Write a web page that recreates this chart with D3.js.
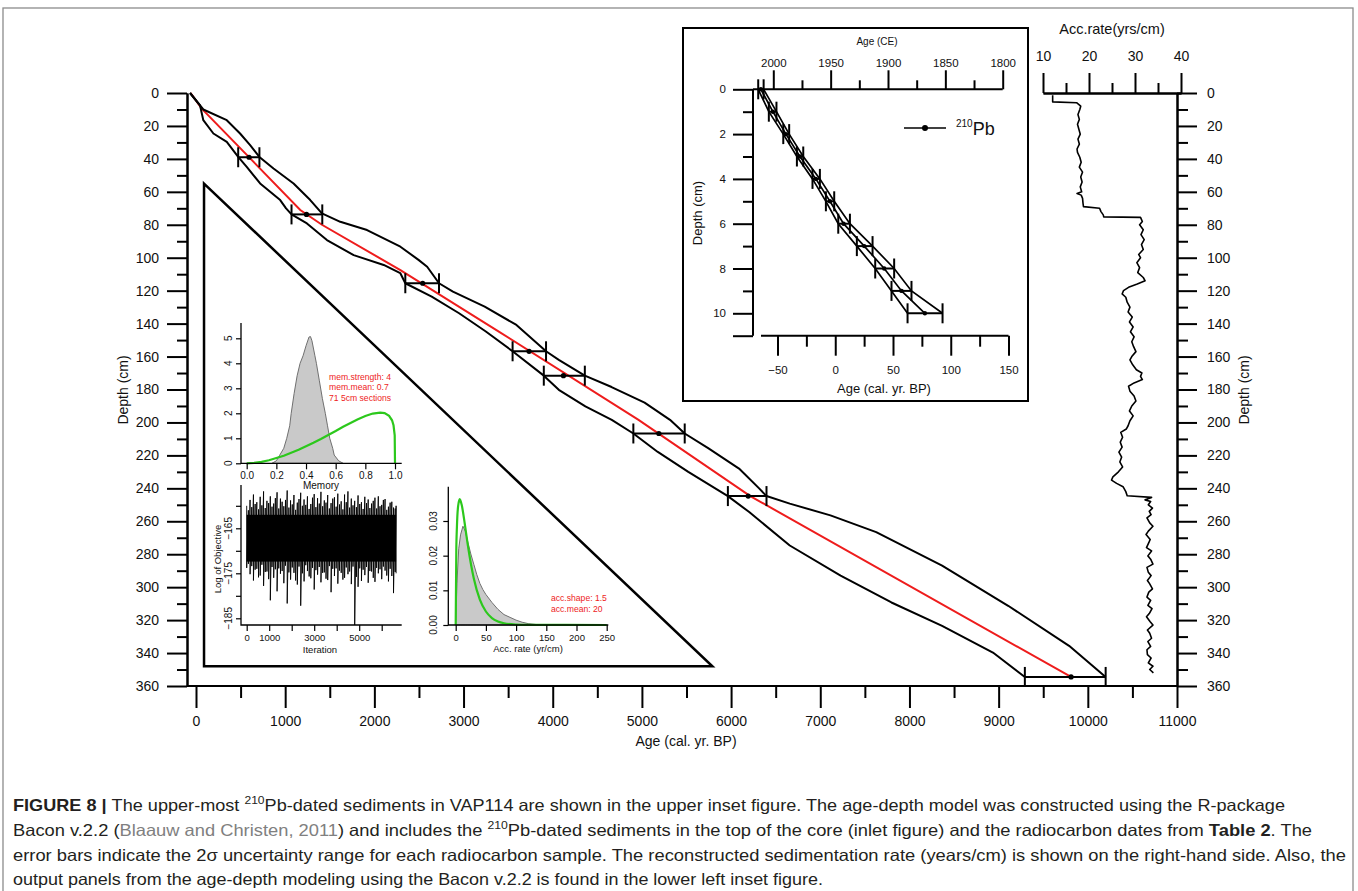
<!DOCTYPE html>
<html>
<head>
<meta charset="utf-8">
<script src="https://cdn.jsdelivr.net/npm/d3@7"></script>
<style>
  body { margin: 0; background: #fff; }
  svg { display: block; }
</style>
</head>
<body>
<div id="chart"></div>
<script>
// ---------------- data ----------------
// radiocarbon dates (depth cm, median age, 2 sigma range)
const c14Depth = [39, 73.7, 115.5, 156.8, 171.6, 206.7, 244.7, 354.5];
const c14Age   = [595, 1239, 2542, 3735, 4120, 5190, 6192, 9812];
const c14Min   = [473, 1071, 2347, 3550, 3900, 4904, 5964, 9294];
const c14Max   = [711, 1416, 2725, 3925, 4360, 5480, 6397, 10200];

// model median (red)
const medDepth = [0, 9.5, 38.8, 71, 80, 107.5, 145, 198.4, 244.7, 354.5];
const medAge   = [-60, 64, 591, 1169, 1412, 2292, 3400, 4962, 6215, 9812];

// model envelope, old side
const oldDepth = [0, 10, 16.5, 24.6, 31.7, 38.8, 45.8, 54.9, 65, 73.1, 78.2, 83.2, 93.3, 101.3, 105.5, 115.5, 120.6, 129.7, 140.8, 156.8, 162, 171.6, 178.5, 188, 198.4, 206.7, 215.8, 228, 240.2, 244.7, 249.3, 256.4, 266.6, 286.9, 311.3, 335.6, 354.5];
const oldAge   = [-67, 82, 345, 494, 607, 711, 869, 1094, 1281, 1412, 1618, 1918, 2292, 2495, 2592, 2725, 2881, 3237, 3593, 3925, 4068, 4360, 4660, 5030, 5315, 5480, 5747, 6089, 6317, 6397, 6658, 7114, 7627, 8366, 9107, 9790, 10200];

// model envelope, young side
const youngDepth = [0, 7.5, 16.5, 24.6, 29.7, 38.8, 44.8, 54.9, 65, 70, 73.7, 79.2, 89.3, 98.4, 104.4, 109.3, 115.5, 123.6, 133.7, 144.8, 156.8, 171.6, 180.2, 190.3, 198.4, 206.7, 217.9, 230, 244.7, 254.4, 274.7, 293, 309.3, 323.5, 339.7, 354.5];
const youngAge   = [-67, 45, 82, 195, 345, 473, 569, 719, 944, 1010, 1071, 1244, 1468, 1768, 2105, 2290, 2347, 2643, 2950, 3250, 3550, 3900, 4068, 4366, 4662, 4904, 5178, 5520, 5964, 6203, 6658, 7228, 7798, 8366, 8936, 9294];

// accumulation rate profile (right)
const accDepth = [1.3, 5.4, 5.9, 8, 10, 13, 16, 19, 22, 25, 28, 31, 34, 36, 39, 42, 45, 48, 51, 54, 57, 60, 61, 62, 64, 67, 69, 70, 72, 74, 75.2, 75.5, 78, 80, 83, 86, 89, 92, 95, 98, 100, 103, 106, 109, 112, 114, 116, 118, 120, 122, 124, 127, 130, 133, 136, 139, 142, 145, 148, 151, 154, 157, 160, 162, 165, 168, 170, 172, 174, 176, 178, 181, 184, 187, 190, 193, 196, 199, 202, 204, 206, 209, 212, 215, 218, 221, 224, 227, 230, 233, 235, 237, 239, 242, 244.5, 245.5, 247, 248, 250, 252, 254, 256, 258, 261, 263, 266, 268, 271, 273, 276, 278, 281, 283, 286, 288, 291, 293, 296, 298, 301, 303, 306, 308, 311, 313, 316, 318, 321, 323, 326, 328, 331, 333, 336, 338, 341, 343, 346, 348, 350, 352];
const accRate  = [12.1, 12.1, 17.3, 18.2, 18.0, 17.6, 17.9, 17.5, 17.8, 18.1, 17.6, 17.9, 17.4, 17.5, 18.0, 18.3, 17.9, 18.6, 18.2, 18.5, 18.1, 18.4, 17.4, 18.3, 18.6, 18.7, 18.8, 22.3, 22.6, 23.1, 23.2, 31.2, 31.6, 31.0, 31.8, 31.3, 32.0, 31.4, 31.8, 30.8, 31.2, 30.4, 31.0, 30.6, 31.8, 32.2, 30.5, 28.6, 27.5, 27.2, 28.0, 28.3, 28.9, 28.5, 29.4, 28.8, 29.6, 29.0, 29.8, 29.3, 29.7, 30.2, 29.3, 28.9, 29.5, 30.3, 31.5, 31.2, 31.6, 29.8, 28.6, 28.9, 29.8, 30.2, 29.3, 28.8, 29.6, 28.9, 28.5, 28.1, 26.9, 27.3, 26.8, 27.2, 26.5, 27.1, 26.7, 27.3, 26.4, 25.2, 24.9, 26.0, 27.4, 28.0, 28.3, 33.6, 32.2, 33.4, 32.9, 33.8, 33.1, 33.5, 32.6, 33.2, 33.9, 32.9, 32.4, 33.3, 33.0, 32.5, 33.6, 32.8, 33.4, 33.9, 32.6, 32.9, 33.5, 32.7, 33.2, 33.8, 33.0, 32.6, 33.4, 32.8, 33.7, 33.1, 32.5, 33.3, 33.9, 32.7, 33.2, 33.6, 32.8, 33.4, 32.6, 32.7, 33.5, 32.9, 33.9, 33.2, 34.0];

// 210Pb inset
const pbDepth = [0, 1, 2, 3, 4, 5, 6, 7, 8, 9, 10];
const pbAge   = [-64.4, -54, -42.7, -30.6, -16.8, -4.6, 7.2, 25.1, 42.4, 57.4, 77.6];
const pbMin   = [-66.7, -57.5, -45, -33.2, -19.7, -8.1, 2.6, 18.7, 34.6, 48.7, 62.6];
const pbMax   = [-62, -50.9, -39.9, -27.7, -13.3, -0.9, 12.7, 32.3, 51, 66, 92.9];

// Bacon output: memory
const memX     = [0.17, 0.20, 0.22, 0.25, 0.27, 0.29, 0.30, 0.32, 0.34, 0.36, 0.38, 0.40, 0.42, 0.43, 0.44, 0.46, 0.47, 0.49, 0.51, 0.53, 0.545, 0.56, 0.58, 0.59, 0.62, 0.65];
const memPost  = [0, 0.1, 0.3, 0.6, 1.0, 1.5, 2.0, 2.8, 3.5, 4.0, 4.3, 4.7, 5.05, 5.07, 4.9, 4.3, 4.0, 3.3, 2.6, 2.0, 1.5, 1.0, 0.6, 0.33, 0.1, 0];
const memPriorX = [0, 0.05, 0.1, 0.15, 0.2, 0.25, 0.3, 0.35, 0.4, 0.45, 0.5, 0.55, 0.6, 0.65, 0.7, 0.75, 0.8, 0.85, 0.9, 0.93, 0.96, 0.98, 0.99, 0.998, 1.0];
const memPrior  = [0, 0.018, 0.06, 0.12, 0.21, 0.30, 0.42, 0.54, 0.68, 0.82, 0.97, 1.13, 1.29, 1.46, 1.61, 1.76, 1.89, 1.99, 2.03, 2.01, 1.90, 1.72, 1.52, 1.12, 0];

// Bacon output: log objective trace (spike extremes read along the run)
const traceIter = [0, 75, 150, 225, 300, 375, 450, 525, 600, 675, 750, 825, 900, 975, 1050, 1125, 1200, 1275, 1350, 1425, 1500, 1575, 1650, 1725, 1800, 1875, 1950, 2025, 2100, 2175, 2250, 2325, 2400, 2475, 2550, 2625, 2700, 2775, 2850, 2925, 3000, 3075, 3150, 3225, 3300, 3375, 3450, 3525, 3600, 3675, 3750, 3825, 3900, 3975, 4050, 4125, 4200, 4275, 4350, 4425, 4500, 4575, 4650, 4725, 4800, 4875, 4950, 5025, 5100, 5175, 5250, 5325, 5400, 5475, 5550, 5625, 5700, 5775, 5850, 5925, 6000, 6075, 6150, 6225, 6300, 6375, 6450, 6525, 6600, 6640];
const traceHigh = [-160.0, -161.0, -158.7, -160.3, -157.5, -159.6, -159.2, -160.8, -158.0, -159.9, -156.8, -160.5, -158.9, -159.4, -157.9, -160.2, -159.5, -158.3, -157.0, -160.6, -158.4, -159.1, -160.1, -158.7, -156.6, -160.4, -158.8, -159.7, -157.6, -160.9, -159.3, -158.5, -157.1, -160.0, -158.6, -159.8, -157.9, -160.7, -159.6, -158.2, -157.4, -160.3, -158.3, -159.5, -156.9, -160.1, -158.8, -159.3, -157.6, -160.6, -159.4, -158.4, -158.1, -160.2, -157.3, -159.7, -159.0, -160.8, -157.5, -159.2, -156.8, -160.4, -158.4, -159.9, -158.9, -160.3, -157.7, -159.6, -159.2, -160.7, -158.0, -159.4, -158.6, -160.5, -159.5, -158.9, -158.2, -160.6, -157.9, -160.1, -159.8, -158.7, -158.5, -160.9, -160.2, -159.3, -159.1, -160.4, -160.6, -160.0];
const traceLow  = [-173.8, -172.9, -175.2, -173.4, -176.6, -174.2, -174.0, -175.9, -175.5, -173.1, -177.8, -174.7, -174.6, -176.3, -181.0, -173.6, -176.0, -174.1, -179.0, -173.9, -175.1, -174.5, -177.2, -173.3, -181.7, -174.8, -176.4, -173.7, -174.9, -176.6, -177.5, -173.5, -182.2, -175.0, -176.8, -173.2, -174.5, -175.7, -176.1, -173.8, -178.6, -174.3, -175.3, -173.6, -177.0, -174.9, -174.8, -176.2, -176.5, -173.4, -179.2, -174.0, -175.6, -173.9, -177.3, -174.4, -174.9, -176.4, -176.0, -173.7, -175.2, -174.6, -177.4, -173.5, -186.5, -175.8, -178.0, -173.9, -176.7, -174.2, -175.4, -173.6, -177.1, -174.5, -174.6, -176.0, -176.9, -173.8, -175.0, -174.1, -176.3, -173.5, -174.4, -175.5, -176.8, -174.0, -175.6, -179.4, -174.7, -175.0];
const traceCore = [-162.0, -172.4];

// Bacon output: accumulation rate
const accPostX = [0, 2, 5, 8, 12, 16, 20, 25, 30, 35, 40, 45, 50, 60, 70, 80, 90, 100, 110, 120, 135, 150];
const accPost  = [0, 0.012, 0.022, 0.026, 0.0285, 0.027, 0.024, 0.0205, 0.0175, 0.0145, 0.012, 0.0102, 0.0088, 0.0065, 0.0045, 0.003, 0.0022, 0.0014, 0.0008, 0.0004, 0.0001, 0];
const accPriorX = [0, 1, 2, 4, 6.7, 10, 15, 20, 25, 30, 40, 50, 60, 70, 80, 100, 120, 250];
const accPrior  = [0, 0.0215, 0.0282, 0.0343, 0.0363, 0.0346, 0.0292, 0.0231, 0.0178, 0.0134, 0.0073, 0.0039, 0.002, 0.001, 0.0005, 0.00013, 0.00003, 0];

// tick values
const ageTicks = [0, 1000, 2000, 3000, 4000, 5000, 6000, 7000, 8000, 9000, 10000, 11000];
const depthTicks = [0, 20, 40, 60, 80, 100, 120, 140, 160, 180, 200, 220, 240, 260, 280, 300, 320, 340, 360];
const accTicks = [10, 20, 30, 40];
const ceTicks = [2000, 1950, 1900, 1850, 1800];
const bpTicks = [-50, 0, 50, 100, 150];
const pbDepthTicks = [0, 2, 4, 6, 8, 10, 11];
const memTicks = [0, 0.2, 0.4, 0.6, 0.8, 1.0];
const memYTicks = [0, 1, 2, 3, 4, 5];
const iterTicks = [0, 1000, 2000, 3000, 4000, 5000, 6000];
const iterLabels = ['0', '1000', '', '3000', '', '5000', ''];
const objTicks = [-160, -165, -170, -175, -180, -185];
const objLabels = ['', '\u2212165', '', '\u2212175', '', '\u2212185'];
const accXTicks = [0, 50, 100, 150, 200, 250];
const accYTicks = [0, 0.01, 0.02, 0.03];
const accYLabels = ['0.00', '0.01', '0.02', '0.03'];

// ---------------- drawing ----------------
const W = 1358, H = 891;
const FONT = '"Liberation Sans", Arial, Helvetica, sans-serif';
const RED = '#ee1c1c';
const GREEN = '#2cc81c';

const svg = d3.select('#chart').append('svg')
    .attr('width', W)
    .attr('height', H)
    .attr('font-family', FONT);

svg.append('rect').attr('width', W).attr('height', H).attr('fill', '#fff');

// figure frame
svg.append('rect')
    .attr('x', 3).attr('y', 8).attr('width', 1350).attr('height', 900)
    .attr('fill', 'none').attr('stroke', '#8c8c8c').attr('stroke-width', 1.3);

function styleAxis(g, size, width) {
    g.attr('font-family', FONT).attr('font-size', size);
    g.selectAll('line').attr('stroke', '#000').attr('stroke-width', width);
    g.selectAll('path.domain').attr('stroke', '#000').attr('stroke-width', width);
    g.selectAll('text').attr('fill', '#111');
}

const x = d3.scaleLinear().domain([0, 11000]).range([196, 1177]);
const y = d3.scaleLinear().domain([0, 360]).range([93, 686]);
const acc = d3.scaleLinear().domain([10, 40]).range([1043, 1181]);

// left depth axis
svg.append('g').attr('transform', 'translate(187,0)')
    .call(d3.axisLeft(y).tickValues(d3.range(10, 360, 20)).tickSize(10).tickFormat('').tickSizeOuter(0))
    .call(g => styleAxis(g, 14, 2));
svg.append('g').attr('transform', 'translate(187,0)')
    .call(d3.axisLeft(y).tickValues(depthTicks).tickSize(20).tickPadding(8).tickSizeOuter(0))
    .call(g => styleAxis(g, 14, 2));

// bottom age axis
svg.append('line')
    .attr('x1', 187).attr('x2', 1177).attr('y1', y(360)).attr('y2', y(360))
    .attr('stroke', '#000').attr('stroke-width', 2);
svg.append('g').attr('transform', `translate(0,${y(360)})`)
    .call(d3.axisBottom(x).tickValues(d3.range(500, 11000, 1000)).tickSize(12).tickFormat(''))
    .call(g => g.select('.domain').remove())
    .call(g => styleAxis(g, 14, 2));
svg.append('g').attr('transform', `translate(0,${y(360)})`)
    .call(d3.axisBottom(x).tickValues(ageTicks).tickSize(22).tickPadding(8).tickFormat(d3.format('d')))
    .call(g => g.select('.domain').remove())
    .call(g => styleAxis(g, 14, 2));

// right depth axis
svg.append('g').attr('transform', 'translate(1177,0)')
    .call(d3.axisRight(y).tickValues(d3.range(10, 360, 20)).tickSize(11).tickFormat('').tickSizeOuter(0))
    .call(g => styleAxis(g, 14, 2));
svg.append('g').attr('transform', 'translate(1177,0)')
    .call(d3.axisRight(y).tickValues(depthTicks).tickSize(20).tickPadding(10).tickSizeOuter(0))
    .call(g => styleAxis(g, 14, 2));

// acc rate top axis
svg.append('g').attr('transform', `translate(0,${y(0)})`)
    .call(d3.axisTop(acc).tickValues([15, 25, 35]).tickSize(10).tickFormat('').tickSizeOuter(0))
    .call(g => styleAxis(g, 14, 2));
svg.append('g').attr('transform', `translate(0,${y(0)})`)
    .call(d3.axisTop(acc).tickValues(accTicks).tickSize(20).tickPadding(12).tickSizeOuter(0))
    .call(g => styleAxis(g, 14, 2));

// axis titles
svg.append('text').attr('x', 686).attr('y', 746).attr('text-anchor', 'middle')
    .attr('font-size', 14).attr('fill', '#111').text('Age (cal. yr. BP)');
svg.append('text').attr('transform', 'translate(128,390) rotate(-90)').attr('text-anchor', 'middle')
    .attr('font-size', 14).attr('fill', '#111').text('Depth (cm)');
svg.append('text').attr('transform', 'translate(1249,390) rotate(-90)').attr('text-anchor', 'middle')
    .attr('font-size', 14).attr('fill', '#111').text('Depth (cm)');
svg.append('text').attr('x', 1112).attr('y', 34).attr('text-anchor', 'middle')
    .attr('font-size', 14.5).attr('fill', '#111').text('Acc.rate(yrs/cm)');

// accumulation rate profile
svg.append('path')
    .datum(accDepth.map((d, i) => [d, accRate[i]]))
    .attr('fill', 'none').attr('stroke', '#000').attr('stroke-width', 1.6)
    .attr('stroke-linejoin', 'round')
    .attr('d', d3.line().x(d => acc(d[1])).y(d => y(d[0])));

// lower-left inset triangle (layout, in data units)
const tri = [[90, 55], [90, 348], [5790, 348]];
svg.append('path')
    .attr('d', d3.line().x(d => x(d[0])).y(d => y(d[1]))(tri) + 'Z')
    .attr('fill', 'none').attr('stroke', '#000').attr('stroke-width', 2.5);

// model median and envelope
const ageLine = d3.line().x(d => x(d[1])).y(d => y(d[0]));
svg.append('path')
    .datum(medDepth.map((d, i) => [d, medAge[i]]))
    .attr('fill', 'none').attr('stroke', RED).attr('stroke-width', 2)
    .attr('d', ageLine);
[[oldDepth, oldAge], [youngDepth, youngAge]].forEach(([ds, as]) => {
    svg.append('path')
        .datum(ds.map((d, i) => [d, as[i]]))
        .attr('fill', 'none').attr('stroke', '#000').attr('stroke-width', 2)
        .attr('stroke-linejoin', 'round')
        .attr('d', ageLine);
});

// radiocarbon error bars
const bars = svg.append('g').attr('stroke', '#000').attr('stroke-width', 2);
c14Depth.forEach((d, i) => {
    bars.append('line').attr('x1', x(c14Min[i])).attr('x2', x(c14Max[i]))
        .attr('y1', y(d)).attr('y2', y(d));
    [c14Min[i], c14Max[i]].forEach(a => {
        bars.append('line').attr('x1', x(a)).attr('x2', x(a))
            .attr('y1', y(d) - 10).attr('y2', y(d) + 10);
    });
});
svg.append('g').selectAll('circle')
    .data(c14Depth)
    .enter().append('circle')
    .attr('cx', (d, i) => x(c14Age[i])).attr('cy', d => y(d)).attr('r', 2.6).attr('fill', '#000');

// ---------------- upper 210Pb inset ----------------
svg.append('rect').attr('x', 683).attr('y', 28).attr('width', 345).attr('height', 373)
    .attr('fill', '#fff').attr('stroke', '#000').attr('stroke-width', 2);

const pbY = d3.scaleLinear().domain([0, 10]).range([89.3, 313.3]);
const pbX = d3.scaleLinear().domain([-50, 150]).range([777.5, 1008.5]);
const ceX = d3.scaleLinear().domain([2000, 1800]).range([773.3, 1002.7]);

svg.append('g').attr('transform', 'translate(753,0)')
    .call(d3.axisLeft(pbY).tickValues([1, 3, 5, 7, 9]).tickSize(10).tickFormat('').tickSizeOuter(0))
    .call(g => g.select('.domain').remove())
    .call(g => styleAxis(g, 11.5, 2));
svg.append('g').attr('transform', 'translate(753,0)')
    .call(d3.axisLeft(pbY).tickValues(pbDepthTicks).tickSize(20).tickPadding(7)
        .tickFormat(d => d === 11 ? '' : d))
    .call(g => g.select('.domain').remove())
    .call(g => styleAxis(g, 11.5, 2));
svg.append('line').attr('x1', 753).attr('x2', 753).attr('y1', pbY(0)).attr('y2', pbY(11))
    .attr('stroke', '#000').attr('stroke-width', 2);

// top CE axis
svg.append('line').attr('x1', 753).attr('x2', ceX(1800)).attr('y1', pbY(0)).attr('y2', pbY(0))
    .attr('stroke', '#000').attr('stroke-width', 2);
svg.append('g').attr('transform', `translate(0,${pbY(0)})`)
    .call(d3.axisTop(ceX).tickValues([1975, 1925, 1875, 1825]).tickSize(9).tickFormat(''))
    .call(g => g.select('.domain').remove())
    .call(g => styleAxis(g, 11.5, 2));
svg.append('g').attr('transform', `translate(0,${pbY(0)})`)
    .call(d3.axisTop(ceX).tickValues(ceTicks).tickSize(19).tickPadding(3).tickFormat(d3.format('d')))
    .call(g => g.select('.domain').remove())
    .call(g => styleAxis(g, 11.5, 2));
svg.append('text').attr('x', 877).attr('y', 45).attr('text-anchor', 'middle')
    .attr('font-size', 10).attr('fill', '#111').text('Age (CE)');

// bottom BP axis
svg.append('line').attr('x1', 761).attr('x2', pbX(150)).attr('y1', pbY(11)).attr('y2', pbY(11))
    .attr('stroke', '#000').attr('stroke-width', 2);
svg.append('g').attr('transform', `translate(0,${pbY(11)})`)
    .call(d3.axisBottom(pbX).tickValues([-25, 25, 75, 125]).tickSize(11).tickFormat(''))
    .call(g => g.select('.domain').remove())
    .call(g => styleAxis(g, 11.5, 2));
svg.append('g').attr('transform', `translate(0,${pbY(11)})`)
    .call(d3.axisBottom(pbX).tickValues(bpTicks).tickSize(20).tickPadding(10).tickFormat(d3.format('d')))
    .call(g => g.select('.domain').remove())
    .call(g => styleAxis(g, 11.5, 2));
svg.append('text').attr('x', 884).attr('y', 393).attr('text-anchor', 'middle')
    .attr('font-size', 13).attr('fill', '#111').text('Age (cal. yr. BP)');
svg.append('text').attr('transform', 'translate(702,213) rotate(-90)').attr('text-anchor', 'middle')
    .attr('font-size', 13).attr('fill', '#111').text('Depth (cm)');

// 210Pb series
const pbLine = d3.line().x(d => pbX(d[1])).y(d => pbY(d[0]));
[pbMin, pbAge, pbMax].forEach(arr => {
    svg.append('path')
        .datum(pbDepth.map((d, i) => [d, arr[i]]))
        .attr('fill', 'none').attr('stroke', '#000').attr('stroke-width', 1.7)
        .attr('d', pbLine);
});
const pbBars = svg.append('g').attr('stroke', '#000').attr('stroke-width', 2);
pbDepth.forEach((d, i) => {
    pbBars.append('line').attr('x1', pbX(pbMin[i])).attr('x2', pbX(pbMax[i]))
        .attr('y1', pbY(d)).attr('y2', pbY(d));
    [pbMin[i], pbMax[i]].forEach(a => {
        pbBars.append('line').attr('x1', pbX(a)).attr('x2', pbX(a))
            .attr('y1', pbY(d) - 10).attr('y2', pbY(d) + 10);
    });
});
svg.append('g').selectAll('circle')
    .data(pbDepth)
    .enter().append('circle')
    .attr('cx', (d, i) => pbX(pbAge[i])).attr('cy', d => pbY(d)).attr('r', 2.2).attr('fill', '#000');

// legend
const leg = svg.append('g').attr('transform', 'translate(904,128)');
leg.append('line').attr('x1', 0).attr('x2', 42).attr('stroke', '#000').attr('stroke-width', 1.7);
leg.append('circle').attr('cx', 21).attr('r', 3).attr('fill', '#000');
const legText = leg.append('text').attr('x', 52).attr('y', 7).attr('fill', '#111').attr('font-size', 18);
legText.append('tspan').attr('font-size', 10).attr('dy', -8).text('210');
legText.append('tspan').attr('dy', 8).text('Pb');

// ---------------- Bacon output panels ----------------
function frameL(x0, y0, x1, y1) {
    svg.append('path')
        .attr('d', `M${x0},${y0}V${y1}H${x1}`)
        .attr('fill', 'none').attr('stroke', '#000').attr('stroke-width', 1.3);
}
function rotLabels(vals, labels, scale, xPos, size) {
    svg.append('g').selectAll('text')
        .data(vals)
        .enter().append('text')
        .attr('transform', d => `translate(${xPos},${scale(d)}) rotate(-90)`)
        .attr('text-anchor', 'middle').attr('font-size', size).attr('fill', '#111')
        .text((d, i) => labels[i]);
}

// memory panel
const mX = d3.scaleLinear().domain([0, 1]).range([246.7, 395]);
const mY = d3.scaleLinear().domain([0, 5]).range([463.3, 338.3]);
svg.append('path')
    .datum(memX.map((d, i) => [d, memPost[i]]))
    .attr('fill', '#c9c9c9').attr('stroke', '#707070').attr('stroke-width', 1)
    .attr('d', d3.area().x(d => mX(d[0])).y0(mY(0)).y1(d => mY(d[1])));
svg.append('path')
    .datum(memPriorX.map((d, i) => [d, memPrior[i]]))
    .attr('fill', 'none').attr('stroke', GREEN).attr('stroke-width', 2.2)
    .attr('d', d3.line().x(d => mX(d[0])).y(d => mY(d[1])));
frameL(241, 323, 401.7, 463.3);
svg.append('g').attr('transform', 'translate(0,463.3)')
    .call(d3.axisBottom(mX).tickValues(memTicks).tickSize(6).tickPadding(3).tickFormat(d3.format('.1f')))
    .call(g => g.select('.domain').remove())
    .call(g => styleAxis(g, 10, 1.2));
svg.append('g').attr('transform', 'translate(241,0)')
    .call(d3.axisLeft(mY).tickValues(memYTicks).tickSize(5).tickFormat(''))
    .call(g => g.select('.domain').remove())
    .call(g => styleAxis(g, 10, 1.2));
rotLabels(memYTicks, memYTicks.map(String), mY, 231.5, 10);
svg.append('text').attr('x', 321).attr('y', 489).attr('text-anchor', 'middle')
    .attr('font-size', 10).attr('fill', '#111').text('Memory');
const memNote = svg.append('g').attr('fill', RED).attr('font-size', 8.6);
['mem.strength: 4', 'mem.mean: 0.7', '71 5cm sections'].forEach((t, i) => {
    memNote.append('text').attr('x', 329).attr('y', 379.5 + i * 10.7).text(t);
});

// iteration panel
const iX = d3.scaleLinear().domain([0, 6000]).range([246.7, 381.7]);
const iY = d3.scaleLinear().domain([-165, -185]).range([528.3, 618.3]);
svg.append('rect')
    .attr('x', iX(0)).attr('width', iX(6640) - iX(0))
    .attr('y', iY(traceCore[0])).attr('height', iY(traceCore[1]) - iY(traceCore[0]))
    .attr('fill', '#000');
const tracePts = traceIter.flatMap((t, i) => [[t, traceHigh[i]], [t, traceLow[i]]]);
svg.append('path')
    .datum(tracePts)
    .attr('fill', 'none').attr('stroke', '#000').attr('stroke-width', 0.9)
    .attr('d', d3.line().x(d => iX(d[0])).y(d => Math.min(iY(d[1]), 625)));
frameL(241, 485, 401.7, 625);
svg.append('g').attr('transform', 'translate(0,625)')
    .call(d3.axisBottom(iX).tickValues(iterTicks).tickSize(6).tickPadding(3).tickFormat((d, i) => iterLabels[i]))
    .call(g => g.select('.domain').remove())
    .call(g => styleAxis(g, 9.5, 1.2));
svg.append('g').attr('transform', 'translate(241,0)')
    .call(d3.axisLeft(iY).tickValues(objTicks).tickSize(5).tickFormat(''))
    .call(g => g.select('.domain').remove())
    .call(g => styleAxis(g, 10, 1.2));
rotLabels(objTicks, objLabels, iY, 231.5, 10);
svg.append('text').attr('x', 320).attr('y', 653).attr('text-anchor', 'middle')
    .attr('font-size', 9.5).attr('fill', '#111').text('Iteration');
svg.append('text').attr('transform', 'translate(221,559) rotate(-90)').attr('text-anchor', 'middle')
    .attr('font-size', 9.5).attr('fill', '#111').text('Log of Objective');

// acc rate panel
const aX = d3.scaleLinear().domain([0, 250]).range([455.7, 606.7]);
const aY = d3.scaleLinear().domain([0, 0.03]).range([625, 521]);
svg.append('path')
    .datum(accPostX.map((d, i) => [d, accPost[i]]))
    .attr('fill', '#c9c9c9').attr('stroke', '#707070').attr('stroke-width', 1)
    .attr('d', d3.area().x(d => aX(d[0])).y0(aY(0)).y1(d => aY(d[1])));
svg.append('path')
    .datum(accPriorX.map((d, i) => [d, accPrior[i]]))
    .attr('fill', 'none').attr('stroke', GREEN).attr('stroke-width', 2.2)
    .attr('d', d3.line().curve(d3.curveMonotoneX).x(d => aX(d[0])).y(d => aY(d[1])));
frameL(448.3, 486.7, 608.3, 625);
svg.append('g').attr('transform', 'translate(0,625)')
    .call(d3.axisBottom(aX).tickValues(accXTicks).tickSize(6).tickPadding(3))
    .call(g => g.select('.domain').remove())
    .call(g => styleAxis(g, 9.5, 1.2));
svg.append('g').attr('transform', 'translate(448.3,0)')
    .call(d3.axisLeft(aY).tickValues(accYTicks).tickSize(5).tickFormat(''))
    .call(g => g.select('.domain').remove())
    .call(g => styleAxis(g, 10, 1.2));
rotLabels(accYTicks, accYLabels, aY, 436.5, 10);
svg.append('text').attr('x', 528).attr('y', 652).attr('text-anchor', 'middle')
    .attr('font-size', 9.5).attr('fill', '#111').text('Acc. rate (yr/cm)');
const accNote = svg.append('g').attr('fill', RED).attr('font-size', 8.6);
['acc.shape:  1.5', 'acc.mean:  20'].forEach((t, i) => {
    accNote.append('text').attr('x', 551).attr('y', 600.5 + i * 11).text(t);
});

// ---------------- caption ----------------
const capLines = [
    { y: 811, w: 1272, parts: [
        { t: 'FIGURE 8 | ', b: true },
        { t: 'The upper-most ' },
        { t: '210', sup: true },
        { t: 'Pb-dated sediments in VAP114 are shown in the upper inset figure. The age-depth model was constructed using the R-package' }
    ] },
    { y: 836, w: 1299, parts: [
        { t: 'Bacon v.2.2 (' },
        { t: 'Blaauw and Christen, 2011', gray: true },
        { t: ') and includes the ' },
        { t: '210', sup: true },
        { t: 'Pb-dated sediments in the top of the core (inlet figure) and the radiocarbon dates from ' },
        { t: 'Table 2', b: true },
        { t: '. The' }
    ] },
    { y: 861, w: 1333, parts: [
        { t: 'error bars indicate the 2\u03c3 uncertainty range for each radiocarbon sample. The reconstructed sedimentation rate (years/cm) is shown on the right-hand side. Also, the' }
    ] },
    { y: 885, w: 810, parts: [
        { t: 'output panels from the age-depth modeling using the Bacon v.2.2 is found in the lower left inset figure.' }
    ] }
];
capLines.forEach(line => {
    const txt = svg.append('text')
        .attr('x', 13).attr('y', line.y)
        .attr('font-size', 16.5).attr('fill', '#231f20')
        .attr('textLength', line.w).attr('lengthAdjust', 'spacingAndGlyphs');
    let raised = false;
    line.parts.forEach(p => {
        const ts = txt.append('tspan').text(p.t);
        if (p.b) ts.attr('font-weight', 'bold');
        if (p.gray) ts.attr('fill', '#808080');
        if (p.sup) { ts.attr('font-size', 11).attr('dy', -7); raised = true; }
        else if (raised) { ts.attr('dy', 7); raised = false; }
    });
});
</script>
</body>
</html>
